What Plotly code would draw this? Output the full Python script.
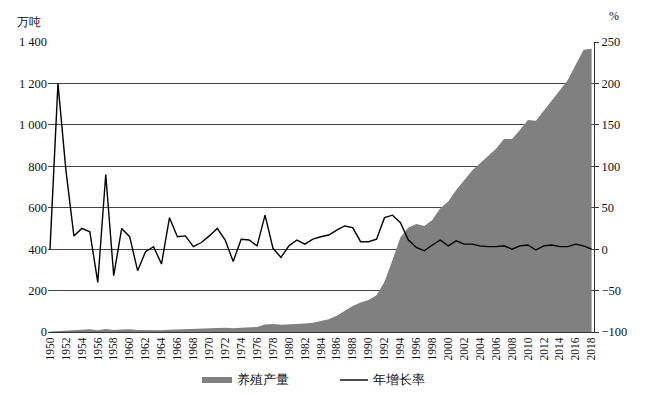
import plotly.graph_objects as go

years = list(range(1950, 2019))

# 养殖产量 (万吨)
production = [
    2, 5, 8, 9, 11, 13, 9, 14, 10, 12,          # 1950-1959
    13, 10, 9, 9, 8, 11, 12, 13, 13, 14,        # 1960-1969
    16, 19, 21, 18, 20, 22, 24, 36, 39, 35,     # 1970-1979
    36, 39, 41, 45, 52, 62, 78, 100, 125, 142,  # 1980-1989
    155, 178, 243, 348, 457, 504, 521, 512, 541, 597,  # 1990-1999
    630, 686, 735, 780, 815, 850, 885, 932, 932, 975,  # 2000-2009
    1024, 1020, 1070, 1120, 1170, 1215, 1290, 1362, 1368  # 2010-2018
]

# 年增长率 (%)
growth = [
    0, 200, 95, 16, 25, 21, -40, 90, -32, 25,    # 1950-1959
    15, -26, -3, 3, -18, 38, 15, 16, 3, 8,       # 1960-1969
    16, 25, 11, -15, 12, 11, 4, 41, 1, -10,      # 1970-1979
    4, 11, 6, 12, 15, 17, 23, 28, 26, 9,         # 1980-1989
    9, 12, 38, 41, 32, 11, 2, -2, 5, 11,         # 1990-1999
    4, 10, 6, 6, 4, 3, 3, 4, 0, 4,               # 2000-2009
    5, -1, 4, 5, 3, 3, 6, 4, 0                   # 2010-2018
]

series_names = ["养殖产量", "年增长率"]
left_ticks = [0, 200, 400, 600, 800, 1000, 1200, 1400]
left_ticktext = ["0", "200", "400", "600", "800", "1 000", "1 200", "1 400"]
right_ticks = [-100, -50, 0, 50, 100, 150, 200, 250]
x_ticks = list(range(1950, 2019, 2))

FONT = "Times New Roman, Liberation Serif, DejaVu Serif, serif"
L, R, T, B = 48, 55, 42, 63
W, H = 649, 395
pw, ph = W - L - R, H - T - B


def px(x):
    return (x - L) / pw


def py(y):
    return (H - B - y) / ph


fig = go.Figure()
fig.add_trace(go.Scatter(
    x=years, y=production, name=series_names[0], mode="lines",
    line=dict(width=0, color="#808080"), fill="tozeroy",
    fillcolor="#808080", yaxis="y", showlegend=False))
fig.add_trace(go.Scatter(
    x=years, y=growth, name=series_names[1], mode="lines",
    line=dict(width=1.4, color="#000000"), yaxis="y2", showlegend=False))

fig.update_layout(
    width=W, height=H,
    margin=dict(l=L, r=R, t=T, b=B, autoexpand=False),
    paper_bgcolor="white", plot_bgcolor="white",
    font=dict(family=FONT, size=12.5, color="#111"),
    showlegend=False,
    xaxis=dict(range=[1949.75, 2018.3], tickvals=x_ticks,
               ticktext=[str(v) for v in x_ticks], tickangle=-90,
               tickfont=dict(size=11.5), showgrid=False, zeroline=False,
               showline=True, linecolor="#333", linewidth=1, ticks="",
               automargin=False),
    yaxis=dict(range=[0, 1400], tickvals=left_ticks, ticktext=left_ticktext,
               showgrid=True, gridcolor="#444", gridwidth=1,
               zeroline=False, showline=False, ticks="", automargin=False),
    yaxis2=dict(range=[-100, 250], tickvals=right_ticks, overlaying="y",
                side="right", showgrid=False, zeroline=False,
                showline=True, linecolor="#333", linewidth=1,
                ticks="outside", ticklen=4, tickcolor="#333",
                automargin=False),
    shapes=[
        dict(type="rect", xref="paper", yref="paper",
             x0=px(202), x1=px(232), y0=py(383), y1=py(377),
             fillcolor="#808080", line=dict(width=0)),
        dict(type="line", xref="paper", yref="paper",
             x0=px(340), x1=px(368), y0=py(380), y1=py(380),
             line=dict(color="#000", width=1.4)),
    ],
    annotations=[
        dict(text="万吨", x=px(29), y=py(22), xref="paper", yref="paper",
             xanchor="center", yanchor="middle",
             showarrow=False, font=dict(size=12)),
        dict(text="%", x=px(614), y=py(16), xref="paper", yref="paper",
             xanchor="center", yanchor="middle",
             showarrow=False, font=dict(size=12)),
        dict(text=series_names[0], x=px(235), y=py(380), xref="paper",
             yref="paper", xanchor="left", yanchor="middle", showarrow=False,
             font=dict(size=12.5)),
        dict(text=series_names[1], x=px(371), y=py(380), xref="paper",
             yref="paper", xanchor="left", yanchor="middle", showarrow=False,
             font=dict(size=12.5)),
    ],
)

fig.write_html("out.html", config={"displayModeBar": False},
               post_script="document.body.style.margin='0';document.body.style.padding='0';")
